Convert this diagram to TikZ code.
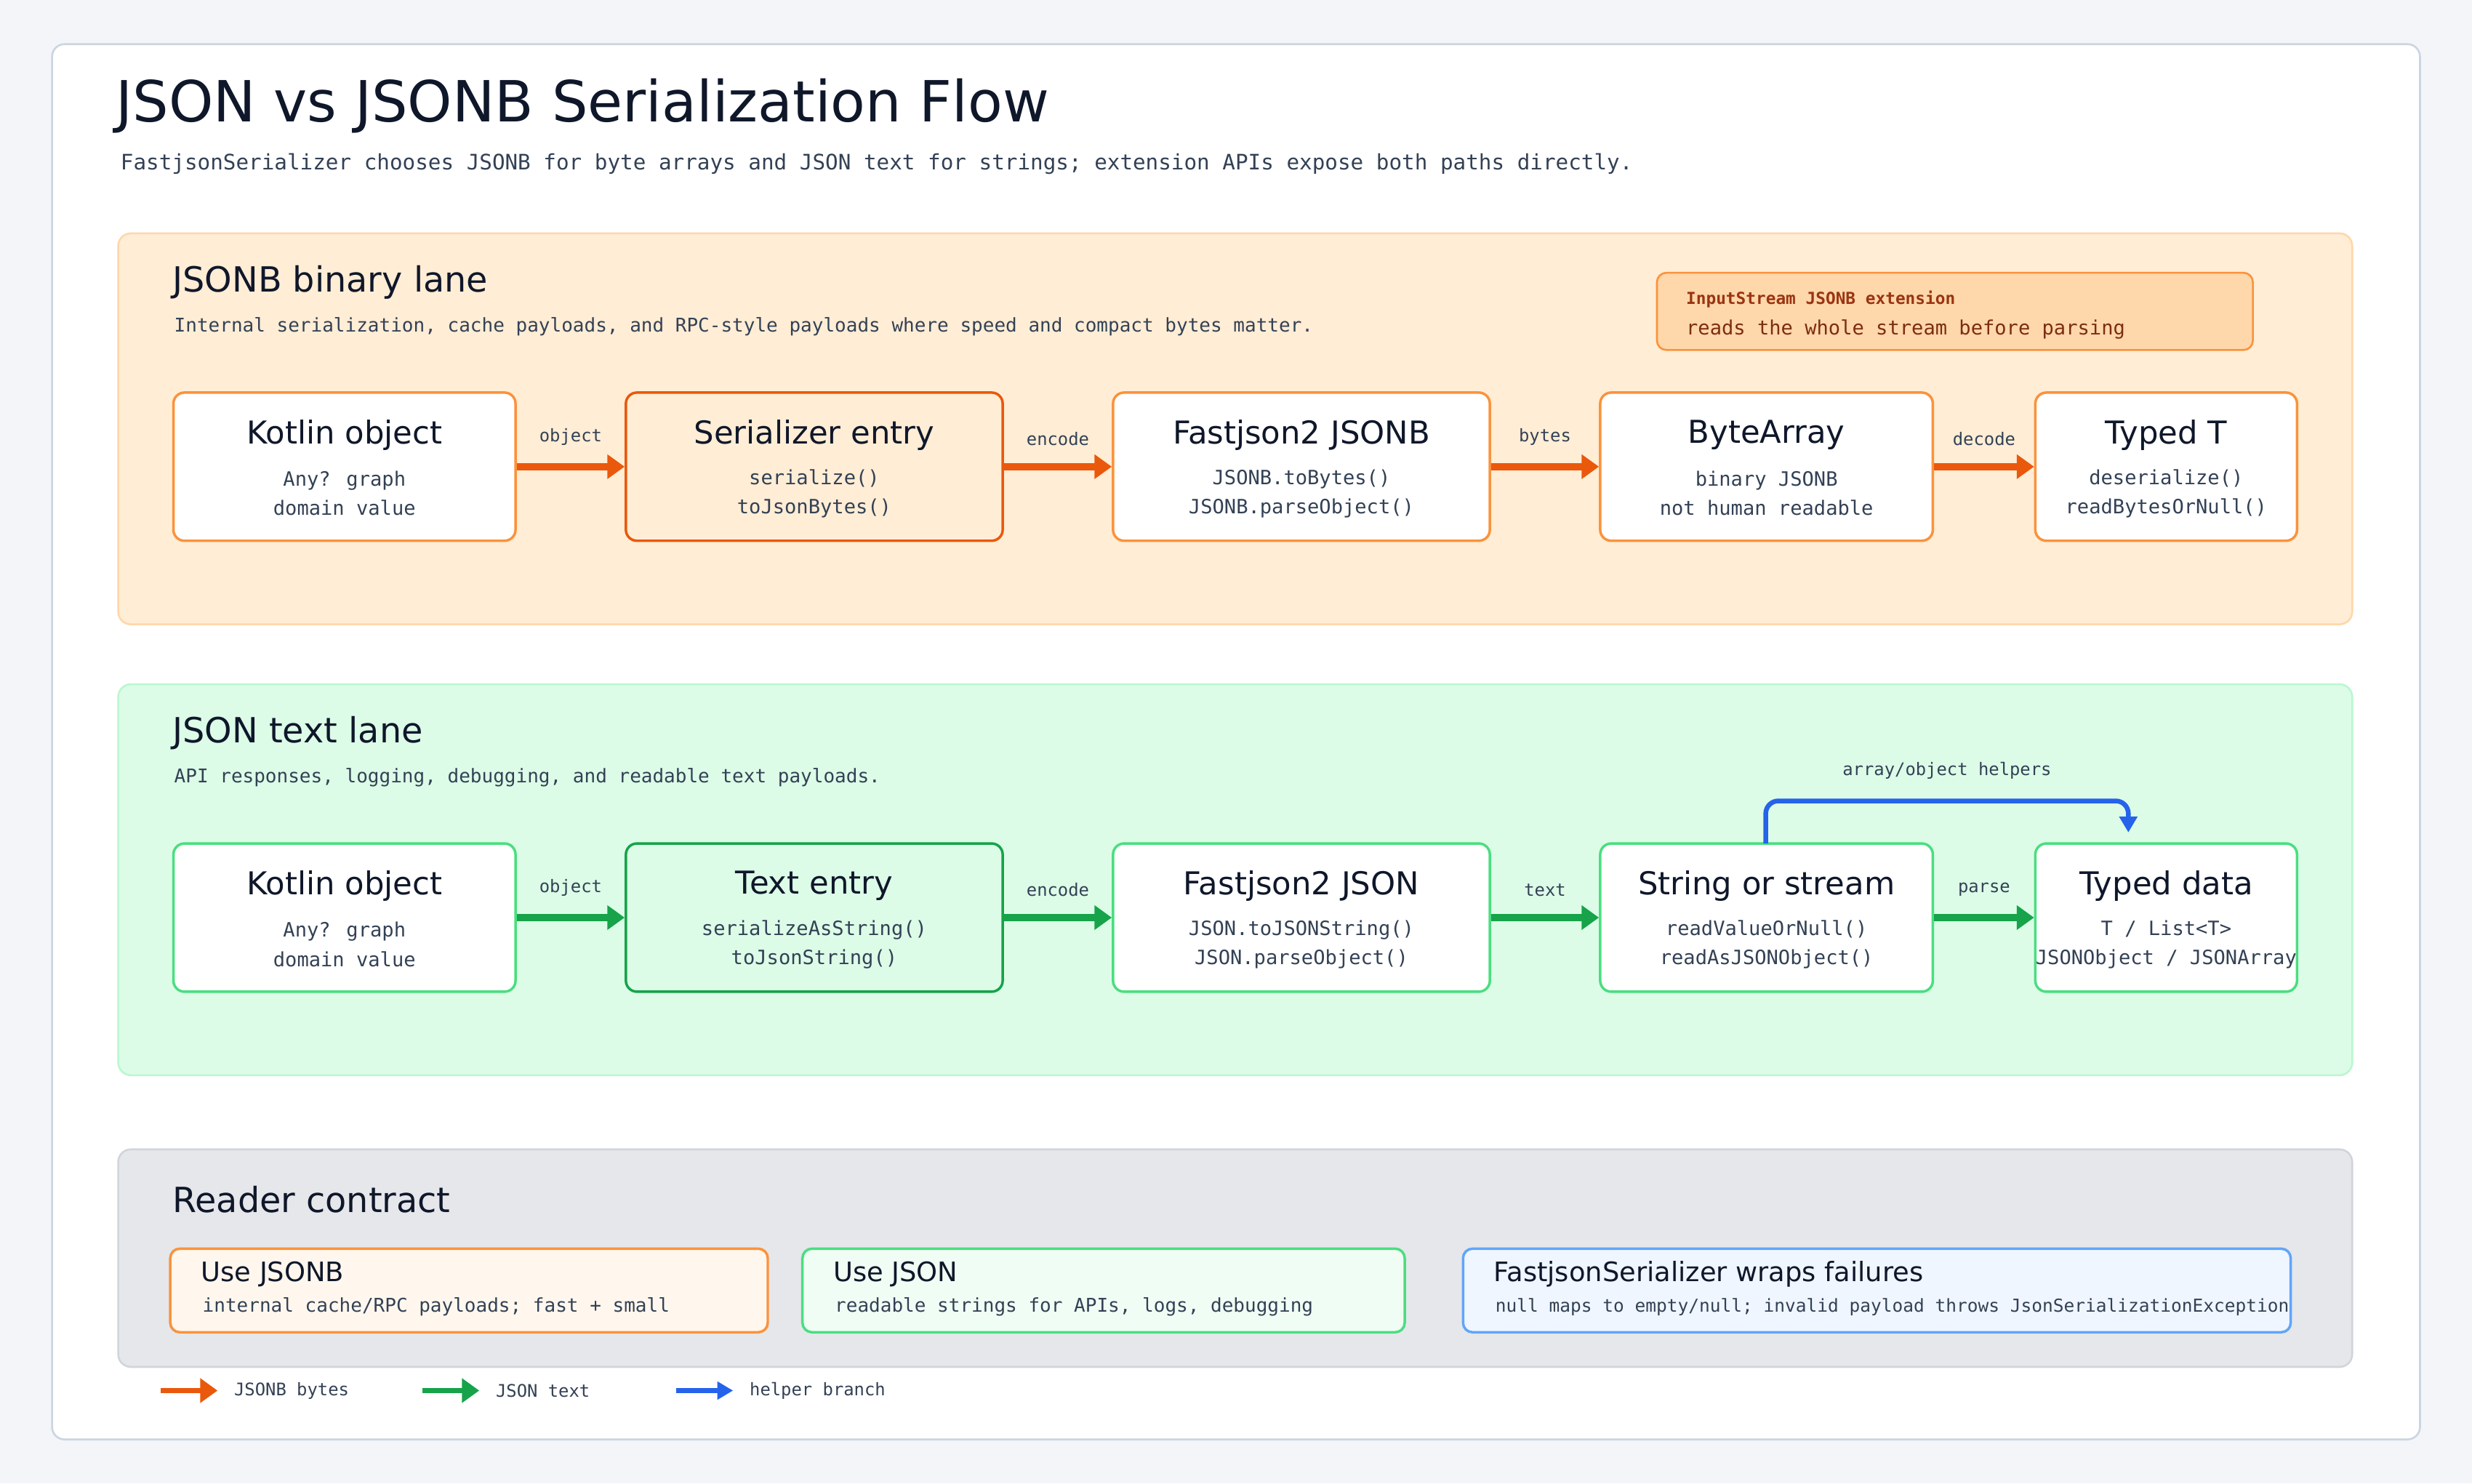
\documentclass[tikz,border=0pt]{standalone}
\usepackage{fontspec}
\setmainfont{DejaVu Sans}
\newfontfamily\mono{DejaVu Sans Mono}
\usetikzlibrary{arrows.meta}
\definecolor{ink}{HTML}{0F172A}
\definecolor{sub}{HTML}{334155}
\definecolor{oarr}{HTML}{EA580C}
\definecolor{garr}{HTML}{16A34A}
\definecolor{barr}{HTML}{2563EB}
\definecolor{ofill}{HTML}{FFEDD5}
\definecolor{oline}{HTML}{FED7AA}
\definecolor{obox}{HTML}{FB923C}
\definecolor{gfill}{HTML}{DCFCE7}
\definecolor{gline}{HTML}{BBF7D0}
\definecolor{gbox}{HTML}{4ADE80}
\definecolor{pagebg}{HTML}{F3F5F8}
\definecolor{cardline}{HTML}{CBD5E1}
\tikzset{
 lane/.style={rounded corners=8pt, line width=1.2pt},
 box/.style={draw, rounded corners=7pt, line width=1.6pt, fill=white, inner sep=0pt},
 ttl/.style={font=\fontsize{20}{24}\selectfont, text=ink},
 body/.style={font=\mono\fontsize{12.5}{18.5}\selectfont, text=sub, align=center},
 lbl/.style={font=\mono\fontsize{11}{13}\selectfont, text=sub},
 oa/.style={draw=oarr, line width=4.5pt, -{Triangle[length=11pt,width=15pt]}},
 ga/.style={draw=garr, line width=4.5pt, -{Triangle[length=11pt,width=15pt]}},
 ba/.style={draw=barr, line width=3pt, rounded corners=8pt, -{Triangle[length=10pt,width=11pt]}},
}
\newcommand{\flownode}[8]{% name, x1, x2, y1, y2, style, title, body
 \node[box,#6, minimum width={(#3-#2)*1pt}, minimum height={(#5-#4)*1pt}] (#1) at ({(#2+#3)/2},{(#4+#5)/2}) {};
 \node[ttl] at ({(#2+#3)/2},{#4+27}) {#7};
 \node[body] at ({(#2+#3)/2},{#4+64}) {#8};
}
\begin{document}
\begin{tikzpicture}[x=1pt,y=-1pt]
\fill[pagebg] (0,0) rectangle (1568,941);
\useasboundingbox (0,0) rectangle (1568,941);
\draw[rounded corners=8pt, fill=white, draw=cardline, line width=1.2pt] (33,28) rectangle (1535,913);
\node[anchor=west, font=\fontsize{36}{40}\selectfont, text=ink] (title) at (70,67) {JSON vs JSONB Serialization Flow};
\node[anchor=west, font=\mono\fontsize{13.5}{16}\selectfont, text=sub] (subtitle) at (73,104) {FastjsonSerializer chooses JSONB for byte arrays and JSON text for strings; extension APIs expose both paths directly.};
% orange lane
\draw[lane, fill=ofill, draw=oline] (75,148) rectangle (1492,396);
\node[anchor=west, ttl, font=\fontsize{22}{26}\selectfont] (ot) at (106,179) {JSONB binary lane};
\node[anchor=west, lbl, font=\mono\fontsize{12}{14}\selectfont] (os) at (107,207) {Internal serialization, cache payloads, and RPC-style payloads where speed and compact bytes matter.};
\draw[rounded corners=6pt, fill=oline, draw=obox, line width=1.2pt] (1051,173) rectangle (1429,222);
\node[anchor=west, font=\mono\bfseries\fontsize{10.5}{12}\selectfont, text={rgb,255:red,154;green,52;blue,18}] (cb1) at (1066,190) {InputStream JSONB extension};
\node[anchor=west, font=\mono\fontsize{12.5}{14}\selectfont, text={rgb,255:red,124;green,45;blue,18}] (cb2) at (1066,209) {reads the whole stream before parsing};
\flownode{a1}{110}{327}{249}{343}{draw=obox}{Kotlin object}{Any? graph\\domain value}
\flownode{a2}{397}{636}{249}{343}{draw=oarr,fill=ofill}{Serializer entry}{serialize()\\toJsonBytes()}
\flownode{a3}{706}{945}{249}{343}{draw=obox}{Fastjson2 JSONB}{JSONB.toBytes()\\JSONB.parseObject()}
\flownode{a4}{1015}{1226}{249}{343}{draw=obox}{ByteArray}{binary JSONB\\not human readable}
\flownode{a5}{1291}{1457}{249}{343}{draw=obox}{Typed T}{deserialize()\\readBytesOrNull()}
\draw[oa] (a1.east) -- node[lbl, above=8pt]{object} (a2.west);
\draw[oa] (a2.east) -- node[lbl, above=8pt]{encode} (a3.west);
\draw[oa] (a3.east) -- node[lbl, above=8pt]{bytes} (a4.west);
\draw[oa] (a4.east) -- node[lbl, above=8pt]{decode} (a5.west);
% green lane
\draw[lane, fill=gfill, draw=gline] (75,434) rectangle (1492,682);
\node[anchor=west, ttl, font=\fontsize{22}{26}\selectfont] (gt) at (106,465) {JSON text lane};
\node[anchor=west, lbl, font=\mono\fontsize{12}{14}\selectfont] (gs) at (107,493) {API responses, logging, debugging, and readable text payloads.};
\flownode{b1}{110}{327}{535}{629}{draw=gbox}{Kotlin object}{Any? graph\\domain value}
\flownode{b2}{397}{636}{535}{629}{draw=garr,fill=gfill}{Text entry}{serializeAsString()\\toJsonString()}
\flownode{b3}{706}{945}{535}{629}{draw=gbox}{Fastjson2 JSON}{JSON.toJSONString()\\JSON.parseObject()}
\flownode{b4}{1015}{1226}{535}{629}{draw=gbox}{String or stream}{readValueOrNull()\\readAsJSONObject()}
\flownode{b5}{1291}{1457}{535}{629}{draw=gbox}{Typed data}{T / List<T>\\JSONObject / JSONArray}
\draw[ga] (b1.east) -- node[lbl, above=8pt]{object} (b2.west);
\draw[ga] (b2.east) -- node[lbl, above=8pt]{encode} (b3.west);
\draw[ga] (b3.east) -- node[lbl, above=8pt]{text} (b4.west);
\draw[ga] (b4.east) -- node[lbl, above=8pt]{parse} (b5.west);
\coordinate (hend) at (1350,528);
\draw[ba] (1120,535) -- (1120,508) -- node[lbl, above=9pt]{array/object helpers} (1350,508) -- (hend);
% gray lane
\draw[lane, fill={rgb,255:red,229;green,231;blue,235}, draw={rgb,255:red,209;green,213;blue,219}] (75,729) rectangle (1492,867);
\node[anchor=west, ttl, font=\fontsize{22}{26}\selectfont] (rt) at (106,761) {Reader contract};
\draw[rounded corners=6pt, line width=1.6pt, fill={rgb,255:red,255;green,247;blue,237}, draw=obox] (108,792) rectangle (487,845);
\node[anchor=west, ttl, font=\fontsize{17}{20}\selectfont] (r1) at (124,808) {Use JSONB};
\node[anchor=west, lbl, font=\mono\fontsize{12}{14}\selectfont] (r1s) at (125,829) {internal cache/RPC payloads; fast + small};
\draw[rounded corners=6pt, line width=1.6pt, fill={rgb,255:red,240;green,253;blue,244}, draw=gbox] (509,792) rectangle (891,845);
\node[anchor=west, ttl, font=\fontsize{17}{20}\selectfont] (r2) at (525,808) {Use JSON};
\node[anchor=west, lbl, font=\mono\fontsize{12}{14}\selectfont] (r2s) at (526,829) {readable strings for APIs, logs, debugging};
\draw[rounded corners=6pt, line width=1.6pt, fill={rgb,255:red,239;green,246;blue,255}, draw={rgb,255:red,96;green,165;blue,250}] (928,792) rectangle (1453,845);
\node[anchor=west, ttl, font=\fontsize{17}{20}\selectfont] (r3) at (944,808) {FastjsonSerializer wraps failures};
\node[anchor=west, lbl, font=\mono\fontsize{11.3}{14}\selectfont] (r3s) at (945,829) {null maps to empty/null; invalid payload throws JsonSerializationException};
% legend
\coordinate (l1a) at (102,882); \coordinate (l1b) at (138,882);
\coordinate (l2a) at (268,882); \coordinate (l2b) at (304,882);
\coordinate (l3a) at (429,882); \coordinate (l3b) at (465,882);
\draw[oa, line width=3.5pt] (l1a) -- (l1b);
\draw[ga, line width=3.5pt] (l2a) -- (l2b);
\draw[barr, line width=3pt, -{Triangle[length=10pt,width=11pt]}] (l3a) -- (l3b);
\node[anchor=west, lbl] (lt1) at (145,882) {JSONB bytes};
\node[anchor=west, lbl] (lt2) at (311,882) {JSON text};
\node[anchor=west, lbl] (lt3) at (472,882) {helper branch};
\end{tikzpicture}
\end{document}
